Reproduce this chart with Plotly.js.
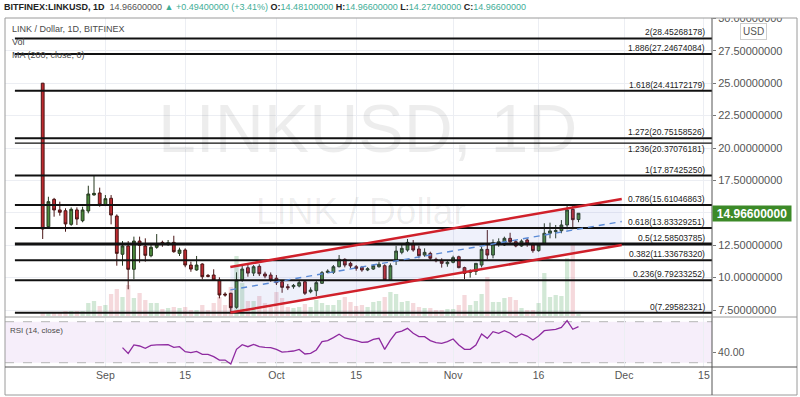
<!DOCTYPE html>
<html><head><meta charset="utf-8">
<script src="https://cdn.plot.ly/plotly-3.0.1.min.js"></script>
<style>html,body{margin:0;padding:0;background:#fff;}#chart{width:800px;height:397px;}</style>
</head><body><div id="chart"></div>
<script>
const dates = [
'2020-08-21','2020-08-22','2020-08-23','2020-08-24','2020-08-25','2020-08-26','2020-08-27','2020-08-28','2020-08-29','2020-08-30','2020-08-31',
'2020-09-01','2020-09-02','2020-09-03','2020-09-04','2020-09-05','2020-09-06','2020-09-07','2020-09-08','2020-09-09','2020-09-10',
'2020-09-11','2020-09-12','2020-09-13','2020-09-14','2020-09-15','2020-09-16','2020-09-17','2020-09-18','2020-09-19','2020-09-20',
'2020-09-21','2020-09-22','2020-09-23','2020-09-24','2020-09-25','2020-09-26','2020-09-27','2020-09-28','2020-09-29','2020-09-30',
'2020-10-01','2020-10-02','2020-10-03','2020-10-04','2020-10-05','2020-10-06','2020-10-07','2020-10-08','2020-10-09','2020-10-10',
'2020-10-11','2020-10-12','2020-10-13','2020-10-14','2020-10-15','2020-10-16','2020-10-17','2020-10-18','2020-10-19','2020-10-20',
'2020-10-21','2020-10-22','2020-10-23','2020-10-24','2020-10-25','2020-10-26','2020-10-27','2020-10-28','2020-10-29','2020-10-30','2020-10-31',
'2020-11-01','2020-11-02','2020-11-03','2020-11-04','2020-11-05','2020-11-06','2020-11-07','2020-11-08','2020-11-09','2020-11-10',
'2020-11-11','2020-11-12','2020-11-13','2020-11-14','2020-11-15','2020-11-16','2020-11-17','2020-11-18','2020-11-19','2020-11-20',
'2020-11-21','2020-11-22','2020-11-23'];
const open = [25.00,13.93,16.04,15.22,15.16,14.11,15.22,14.39,15.14,16.38,16.53,15.60,16.12,14.75,11.80,12.44,10.64,12.82,12.44,11.69,
12.34,12.72,12.55,12.72,11.87,12.13,10.97,10.59,11.05,10.17,10.20,9.81,8.73,8.79,7.71,9.81,10.76,10.35,10.87,10.28,
10.20,9.95,9.68,9.30,9.30,9.35,9.68,8.91,8.99,9.56,10.40,10.41,10.84,11.41,11.10,10.84,10.79,10.59,10.66,10.84,
10.92,9.81,11.30,11.95,12.13,12.57,12.21,11.74,11.87,11.41,11.30,11.07,11.18,11.61,10.77,10.41,10.48,10.97,12.18,11.74,
12.59,12.52,13.03,12.77,12.44,12.90,12.52,12.08,12.59,13.42,13.55,13.62,14.06,15.27,14.481];
const high = [25.02,16.24,16.15,15.86,15.35,15.42,15.42,15.47,17.09,17.874,16.94,16.37,16.37,14.88,12.82,12.82,13.16,13.16,13.03,12.59,
13.36,12.85,12.90,13.23,12.31,12.26,11.23,11.67,11.10,10.28,10.64,10.02,8.87,8.83,10.41,11.05,10.97,10.97,11.03,10.45,
10.40,10.20,9.81,9.51,9.51,9.81,9.81,9.25,9.76,10.51,10.64,10.97,11.74,11.49,11.23,10.97,10.90,10.80,11.03,11.23,
11.03,11.10,12.46,12.52,12.98,12.90,12.46,12.26,12.00,11.54,11.49,11.36,11.69,11.69,10.84,10.64,11.10,12.38,13.67,12.95,
13.03,13.16,13.46,12.90,12.95,13.03,12.69,12.65,14.19,14.24,14.06,14.44,15.52,15.52,14.966];
const low = [12.98,13.85,14.70,14.78,13.54,14.00,14.06,14.27,14.96,16.32,15.47,15.52,14.11,10.92,10.92,9.10,9.89,11.15,11.23,11.57,
12.23,12.38,12.45,11.92,11.67,10.80,10.45,10.53,9.87,10.02,9.74,8.40,8.53,7.296,7.60,9.68,10.07,10.12,10.12,9.95,
9.68,9.43,8.83,9.04,9.14,9.25,8.66,8.79,8.58,9.51,10.33,10.28,10.79,10.79,10.72,10.53,10.45,10.50,10.59,10.77,
9.74,9.74,10.97,11.80,12.00,12.00,11.49,11.61,11.28,11.18,10.77,10.84,11.10,10.72,9.89,10.00,10.20,10.79,11.41,11.49,
12.38,12.44,12.65,12.34,12.38,12.38,11.92,12.00,12.52,13.03,13.03,13.42,13.73,13.73,14.274];
const close = [13.75,15.86,15.22,15.04,14.14,15.27,14.52,15.22,16.45,16.50,15.60,16.09,14.83,11.87,12.44,10.64,12.82,12.49,11.72,12.34,
12.59,12.60,12.69,12.00,12.13,10.97,10.66,10.97,10.07,10.10,9.81,8.66,8.66,7.68,9.81,10.66,10.35,10.84,10.30,10.12,
9.81,9.61,9.25,9.22,9.40,9.61,8.79,9.04,9.61,10.38,10.50,10.84,11.41,10.97,10.90,10.72,10.59,10.68,10.92,11.03,
9.81,10.92,12.05,12.26,12.72,12.13,11.69,11.95,11.49,11.30,11.10,11.18,11.54,10.77,10.33,10.51,11.10,12.18,11.74,12.69,
12.77,13.03,12.77,12.44,12.82,12.59,12.08,12.52,13.42,13.60,13.62,14.06,15.22,14.472,14.966];
const volume = [4,4,4,4,5,5,5,5,13,15,
10,11,22,27,19,31,18,23,16,13,
13,7,8,9,8,9,6,6,11,6,
13,19,11,29,60,33,15,15,20,13,
9,24,18,9,8,9,12,9,16,13,
11,11,16,19,14,10,11,9,14,15,
19,24,22,14,15,13,9,8,8,6,
6,7,7,11,21,11,15,22,39,14,
14,18,19,16,8,6,6,13,43,19,
21,20,58,71,2];
const rsiStart = 14;
const rsi = [44.7,39.1,47.3,46.3,44.0,46.9,47.3,47.5,47.6,45.0,
45.6,40.8,39.8,41.1,38.2,38.2,35.9,32.6,32.6,28.7,
43.0,47.6,45.6,47.9,45.6,45.0,44.7,43.0,40.4,40.8,
41.4,43.0,38.5,39.1,42.4,50.5,51.5,54.5,57.7,54.1,
53.1,51.5,49.9,50.2,52.8,53.8,43.0,52.1,59.3,60.9,
63.5,58.7,55.4,55.4,51.5,49.5,48.9,50.5,53.1,47.3,
43.0,43.0,47.3,58.0,53.8,60.3,58.7,61.2,58.7,54.8,
58.0,56.0,52.1,56.0,61.2,61.9,62.6,64.5,71.0,62.6,
65.2];
const fibLevels = ['0','0.236','0.382','0.5','0.618','0.786','1','1.236','1.272','1.618','1.886','2'];
const fibPrices = [7.29582321,9.79233252,11.33678320,12.58503785,13.83329251,15.61046863,17.87425250,20.37076181,20.75158526,24.41172179,27.24674084,28.45268178];
const fibSpan = ['2020-08-16 03:00','2020-12-18 00:00'];
const channelDates = ['2020-09-22 22:00','2020-11-30 14:00'];
const channelUpper = [10.82,16.06];
const channelMid = [9.05,14.33];
const channelLower = [7.30,12.52];
const priceTicks = [7.5,10,12.5,15,17.5,20,22.5,25,27.5,30];
const rsiTicks = [40];
const xTickDates = ['2020-09-01','2020-09-15','2020-10-01','2020-10-15','2020-11-01','2020-11-16','2020-12-01','2020-12-15'];
const xTickText = ['Sep','15','Oct','15','Nov','16','Dec','15'];
const lastPrice = 14.966;

const FONT = 'Liberation Sans, Arial, sans-serif';
const up = close.map((c,i)=>c>=open[i]);
const traces = [];
traces.push({type:'bar', x:dates, y:volume, xaxis:'x', yaxis:'y',
  marker:{color:up.map(u=>u?'rgba(80,165,95,0.26)':'rgba(210,80,95,0.22)'), line:{width:0}},
  hoverinfo:'skip', showlegend:false});
traces.push({type:'scatter', mode:'lines', x:channelDates, y:channelLower, xaxis:'x', yaxis:'y3',
  line:{width:0, color:'rgba(0,0,0,0)'}, hoverinfo:'skip', showlegend:false});
traces.push({type:'scatter', mode:'lines', x:channelDates, y:channelUpper, xaxis:'x', yaxis:'y3',
  line:{width:0, color:'rgba(0,0,0,0)'}, fill:'tonexty', fillcolor:'rgba(105,125,215,0.11)', hoverinfo:'skip', showlegend:false});
traces.push({type:'candlestick', x:dates, open:open, high:high, low:low, close:close, xaxis:'x', yaxis:'y3',
  increasing:{line:{color:'#26381f', width:1}, fillcolor:'#4b8a3b'},
  decreasing:{line:{color:'#4a1515', width:1}, fillcolor:'#bf2a30'},
  whiskerwidth:0, hoverinfo:'skip', showlegend:false});
fibLevels.forEach((lv,k)=>{
  const w = lv==='0.5'?3:(lv==='1.236'?1.2:2);
  traces.push({type:'scatter', mode:'lines', x:fibSpan, y:[fibPrices[k],fibPrices[k]], xaxis:'x', yaxis:'y3',
    line:{color:'#111', width:w}, hoverinfo:'skip', showlegend:false});
});
traces.push({type:'scatter', mode:'lines', x:channelDates, y:channelUpper, xaxis:'x', yaxis:'y3',
  line:{color:'#d0202a', width:2.5}, hoverinfo:'skip', showlegend:false});
traces.push({type:'scatter', mode:'lines', x:channelDates, y:channelLower, xaxis:'x', yaxis:'y3',
  line:{color:'#d0202a', width:2.5}, hoverinfo:'skip', showlegend:false});
traces.push({type:'scatter', mode:'lines', x:channelDates, y:channelMid, xaxis:'x', yaxis:'y3',
  line:{color:'#5a8ad6', width:1.4, dash:'6px,5px'}, hoverinfo:'skip', showlegend:false});
traces.push({type:'scatter', mode:'lines', x:dates.slice(rsiStart), y:rsi, xaxis:'x', yaxis:'y2',
  line:{color:'#8e2aa0', width:1.3}, hoverinfo:'skip', showlegend:false});

const px = v => (v-5)/707;        // paper x from pixel
const py = v => (367-v)/349;      // paper y from pixel
const teal = '#3fae97';
const annotations = [];
annotations.push({xref:'paper', yref:'paper', x:px(2), y:py(7), xanchor:'left', yanchor:'middle', showarrow:false,
  font:{family:FONT, size:9, color:'#222'},
  text:'<b>BITFINEX:LINKUSD, 1D</b>  <span style="color:#555">14.96600000</span> <span style="color:'+teal+'">▲ +0.49400000 (+3.41%)</span> <b>O:</b><span style="color:'+teal+'">14.48100000</span> <b>H:</b><span style="color:'+teal+'">14.96600000</span> <b>L:</b><span style="color:'+teal+'">14.27400000</span> <b>C:</b><span style="color:'+teal+'">14.96600000</span>'});
annotations.push({xref:'paper', yref:'paper', x:px(367), y:py(128), xanchor:'center', yanchor:'middle', showarrow:false,
  font:{family:FONT, size:68, color:'rgba(0,0,0,0.07)'}, text:'LINKUSD, 1D'});
annotations.push({xref:'paper', yref:'paper', x:px(361), y:py(211), xanchor:'center', yanchor:'middle', showarrow:false,
  font:{family:FONT, size:37, color:'rgba(0,0,0,0.07)'}, text:'LINK / Dollar'});
[['LINK / Dollar, 1D, BITFINEX',29],['Vol',42],['MA (200, close, 0)',55]].forEach(t=>{
  annotations.push({xref:'paper', yref:'paper', x:px(10), y:py(t[1]), xanchor:'left', yanchor:'middle', showarrow:false,
    font:{family:FONT, size:9, color:'#4a4a4a'}, text:t[0]});
});
annotations.push({xref:'paper', yref:'paper', x:px(8), y:py(330), xanchor:'left', yanchor:'middle', showarrow:false,
  font:{family:FONT, size:8, color:'#4a4a4a'}, text:'RSI (14, close)'});
fibLevels.forEach((lv,k)=>{
  annotations.push({xref:'paper', yref:'y3', x:px(706), y:fibPrices[k], xanchor:'right',
    yanchor: lv==='1.236' ? 'top' : 'bottom', showarrow:false,
    borderpad:0, font:{family:FONT, size:8.5, color:'#222'}, text:lv+'('+fibPrices[k].toFixed(8)+')'});
});
annotations.push({xref:'paper', yref:'paper', x:px(753.5), y:py(31.5), xanchor:'center', yanchor:'middle', showarrow:false,
  font:{family:FONT, size:10, color:'#555'}, text:'USD', bordercolor:'#cfcfcf', borderwidth:1, borderpad:2, bgcolor:'#fff'});
annotations.push({xref:'paper', yref:'y3', x:px(712), y:lastPrice, xanchor:'left', yanchor:'middle', showarrow:false,
  font:{family:FONT, size:12, color:'#fff'}, text:'<b>'+lastPrice.toFixed(8)+'</b>', bgcolor:'#3c8a28',
  width:76, height:13, borderpad:1});

const shapes = [
  {type:'rect', xref:'paper', yref:'y2', x0:0, x1:1, y0:30, y1:70, fillcolor:'rgba(150,70,200,0.09)', line:{width:0}, layer:'below'},
  {type:'line', xref:'paper', yref:'y2', x0:0, x1:1, y0:70, y1:70, line:{color:'#b5b5b5', width:1, dash:'dash'}, layer:'below'},
  {type:'line', xref:'paper', yref:'y2', x0:0, x1:1, y0:30, y1:30, line:{color:'#b5b5b5', width:1, dash:'dash'}, layer:'below'},
  {type:'rect', xref:'paper', yref:'paper', x0:px(713), x1:px(799), y0:py(18), y1:py(0), fillcolor:'#fff', line:{width:0}, layer:'above'},
  {type:'rect', xref:'paper', yref:'paper', x0:0, x1:px(797), y0:py(395), y1:py(18), line:{color:'#9a9a9a', width:1}, layer:'above'},
  {type:'line', xref:'paper', yref:'paper', x0:1, x1:1, y0:py(395), y1:py(18), line:{color:'#555', width:1}, layer:'above'},
  {type:'line', xref:'paper', yref:'paper', x0:0, x1:px(797), y0:py(317), y1:py(317), line:{color:'#9a9a9a', width:1}, layer:'above'},
  {type:'line', xref:'paper', yref:'paper', x0:0, x1:px(797), y0:py(367), y1:py(367), line:{color:'#555', width:1}, layer:'above'}
];

const layout = {
  width:800, height:397, margin:{l:5, r:88, t:18, b:30},
  paper_bgcolor:'#fff', plot_bgcolor:'#fff', showlegend:false, bargap:0.25,
  font:{family:FONT, color:'#555'},
  xaxis:{type:'date', range:['2020-08-14 09:16','2020-12-16 10:05'], anchor:'y2',
    tickvals:xTickDates, ticktext:xTickText, showgrid:true, gridcolor:'#eceef3', zeroline:false,
    tickfont:{family:FONT, size:10.5, color:'#555'}, ticks:'', showline:false,
    rangeslider:{visible:false}, fixedrange:true},
  yaxis:{domain:[0.1461,1], range:[0,298], visible:false, fixedrange:true, showgrid:false, zeroline:false},
  yaxis3:{overlaying:'y', side:'right', anchor:'x', range:[7.037,30.031], tickvals:priceTicks,
    ticktext:priceTicks.map(v=>Math.abs(v-lastPrice)<0.5?'':v.toFixed(8)), showgrid:true, gridcolor:'#eceef3', zeroline:false,
    ticks:'outside', ticklen:3, tickcolor:'#777', showline:false,
    tickfont:{family:FONT, size:11, color:'#555'}, fixedrange:true},
  yaxis2:{domain:[0,0.1404], side:'right', anchor:'x', range:[25.8,73.6], tickvals:rsiTicks,
    ticktext:rsiTicks.map(v=>v.toFixed(2)), showgrid:false, zeroline:false,
    ticks:'outside', ticklen:3, tickcolor:'#777', showline:false,
    tickfont:{family:FONT, size:10.5, color:'#555'}, fixedrange:true},
  annotations:annotations, shapes:shapes
};
Plotly.newPlot('chart', traces, layout, {staticPlot:true, displayModeBar:false});
</script></body></html>
